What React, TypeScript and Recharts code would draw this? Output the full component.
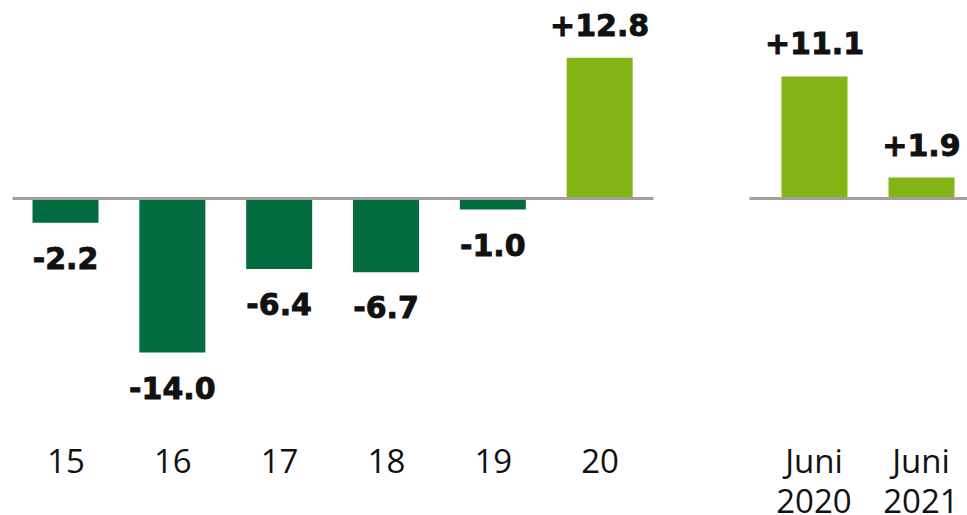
import React from 'react';
import { BarChart, Bar, XAxis, YAxis, Cell, LabelList, ReferenceLine } from 'recharts';

const categories = ['15', '16', '17', '18', '19', '20'];
const values = [-2.2, -14.0, -6.4, -6.7, -1.0, 12.8];
const juniCategories = ['Juni 2020', 'Juni 2021'];
const juniValues = [11.1, 1.9];

const DARK = '#036C41';
const LIGHT = '#84B517';
const LINE = '#A59F9B';
const DOMAIN: [number, number] = [-16, 16];

const leftData = categories.map((c, i) => ({ cat: c, value: values[i] }));
const rightData = juniCategories.map((c, i) => ({ cat: c, value: juniValues[i] }));

const fmt = (v: number) => (v > 0 ? '+' : '') + v.toFixed(1);

const ValueLabel = (props: any) => {
  const { x, y, width, height, value } = props;
  const top = Math.min(y, y + height);
  const bottom = Math.max(y, y + height);
  const cx = x + width / 2;
  const ty = value >= 0 ? top - 22 : bottom + 46;
  return (
    <text x={cx} y={ty} textAnchor="middle" fill="#111" stroke="#111" strokeWidth={0.9} fontFamily="'DejaVu Sans', sans-serif" fontWeight={700} fontSize={30}>
      {fmt(value)}
    </text>
  );
};

const Tick = (props: any) => {
  const { x, y, payload } = props;
  const parts = String(payload.value).split(' ');
  return (
    <text textAnchor="middle" fill="#111" fontFamily="'Open Sans', sans-serif" fontSize={33}>
      {parts.map((p, i) => (
        <tspan key={i} x={x} y={y + 98 + i * 40}>{p}</tspan>
      ))}
    </text>
  );
};

export default function App() {
  return (
    <div style={{ position: 'absolute', left: 0, top: 0, width: 967, height: 515, overflow: 'hidden', background: '#fff' }}>
      <div style={{ position: 'absolute', left: 0, top: 0 }}>
        <BarChart width={680} height={515} data={leftData} margin={{ top: 22.5, right: 26.5, bottom: 40.5, left: 12.5 }} barSize={66}>
          <XAxis dataKey="cat" axisLine={false} tickLine={false} tickSize={0} tickMargin={0} height={100} tick={<Tick />} interval={0} />
          <YAxis hide domain={DOMAIN} allowDataOverflow />
          <Bar dataKey="value" isAnimationActive={false}>
            {leftData.map((d, i) => (
              <Cell key={i} fill={d.value >= 0 ? LIGHT : DARK} />
            ))}
            <LabelList dataKey="value" content={<ValueLabel />} />
          </Bar>
          <ReferenceLine y={0} stroke={LINE} strokeWidth={3} ifOverflow="extendDomain" />
        </BarChart>
      </div>
      <div style={{ position: 'absolute', left: 700, top: 0 }}>
        <BarChart width={280} height={515} data={rightData} margin={{ top: 22.5, right: 5.5, bottom: 40.5, left: 49.5 }} barSize={66}>
          <XAxis dataKey="cat" axisLine={false} tickLine={false} tickSize={0} tickMargin={0} height={100} tick={<Tick />} interval={0} padding={{ left: 11, right: 0 }} />
          <YAxis hide domain={DOMAIN} allowDataOverflow />
          <Bar dataKey="value" fill={LIGHT} isAnimationActive={false}>
            <LabelList dataKey="value" content={<ValueLabel />} />
          </Bar>
          <ReferenceLine y={0} stroke={LINE} strokeWidth={3} ifOverflow="extendDomain" />
        </BarChart>
      </div>
    </div>
  );
}
